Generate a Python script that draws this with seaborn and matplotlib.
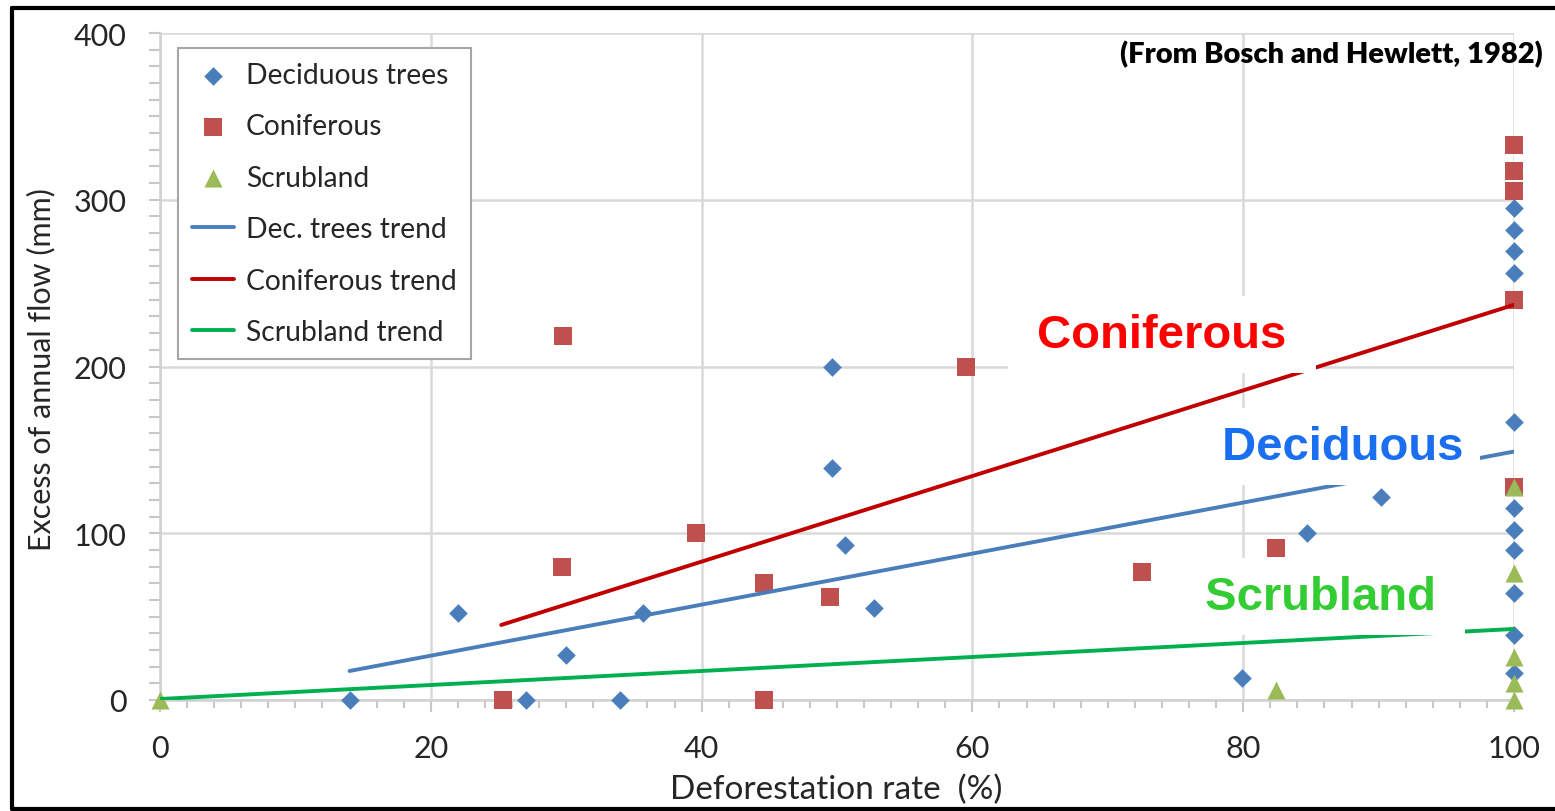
import seaborn as sns
import matplotlib.pyplot as plt
from matplotlib.lines import Line2D
from matplotlib.ticker import MultipleLocator

# --- data (Bosch and Hewlett, 1982) ---
dec_x = [14, 22, 27, 30, 34, 35.7, 49.6, 49.6, 50.6, 52.7, 79.9, 84.7, 90.2,
         100, 100, 100, 100, 100, 100, 100, 100, 100, 100, 100]
dec_y = [0, 52, 0, 27, 0, 52, 200, 139, 93, 55, 13, 100, 122,
         295, 282, 269, 256, 167, 115, 102, 90, 64, 39, 16]

con_x = [25.3, 29.7, 29.8, 39.6, 44.6, 44.6, 49.5, 59.5, 72.5, 82.4,
         100, 100, 100, 100, 100]
con_y = [0, 80, 218, 100, 70, 0, 62, 200, 77, 91,
         333, 317, 305, 240, 128]

scr_x = [0, 82.4, 100, 100, 100, 100, 100]
scr_y = [0, 6, 128, 76, 26, 10, 0]

# trend lines (end points)
dec_trend_x = [14, 100]
dec_trend_y = [17.4, 149]
con_trend_x = [25.2, 100]
con_trend_y = [45, 237]
scr_trend_x = [0, 100]
scr_trend_y = [0.6, 42.6]

sns.set_style("white")
plt.rcParams['font.family'] = ['Lato', 'DejaVu Sans']

fig = plt.figure(figsize=(15.55, 8.12), dpi=100)
ax = fig.add_axes([160 / 1555, 1 - 701 / 812, 1354 / 1555, 667 / 812])

# points
sns.scatterplot(x=dec_x, y=dec_y, marker='D', s=90, color='#4a7ebb', linewidth=0,
                label='Deciduous trees', clip_on=False, zorder=3, ax=ax)
sns.scatterplot(x=con_x, y=con_y, marker='s', s=150, color='#c0504d', linewidth=0,
                label='Coniferous', clip_on=False, zorder=3, ax=ax)
sns.scatterplot(x=scr_x, y=scr_y, marker='^', s=170, color='#9bbb59', linewidth=0,
                label='Scrubland', clip_on=False, zorder=3, ax=ax)

# trends
sns.lineplot(x=dec_trend_x, y=dec_trend_y, color='#4a7ebb', lw=2.8,
             label='Dec. trees trend', zorder=4, ax=ax)
sns.lineplot(x=con_trend_x, y=con_trend_y, color='#c00000', lw=2.8,
             label='Coniferous trend', zorder=4, ax=ax)
sns.lineplot(x=scr_trend_x, y=scr_trend_y, color='#00b050', lw=2.8,
             label='Scrubland trend', zorder=4, ax=ax)

ax.set_xlim(0, 100)
ax.set_ylim(0, 400)
ax.xaxis.set_major_locator(MultipleLocator(20))
ax.xaxis.set_minor_locator(MultipleLocator(2))
ax.yaxis.set_major_locator(MultipleLocator(100))
ax.yaxis.set_minor_locator(MultipleLocator(10))
ax.grid(True, which='major', color='#d9d9d9', lw=1.8)
ax.set_axisbelow(True)
for side in ['top', 'right']:
    ax.spines[side].set_visible(False)
for side in ['left', 'bottom']:
    ax.spines[side].set_color('#d0d0d0')
    ax.spines[side].set_linewidth(1.8)

ax.tick_params(which='both', direction='out', color='#c8c8c8', width=1.5,
               bottom=True, left=True, labelsize=22, labelcolor='#262626')
ax.tick_params(axis='x', which='major', length=8.6, pad=16)
ax.tick_params(axis='x', which='minor', length=6)
ax.tick_params(axis='y', which='both', length=8, pad=16)
ax.set_xlabel('')
ax.set_ylabel('')

fig.text(836 / 1555, 1 - 790 / 812, 'Deforestation rate  (%)', ha='center', va='center',
         fontsize=24, color='#262626')
fig.text(41 / 1555, 1 - 370 / 812, 'Excess of annual flow (mm)', ha='center', va='center',
         rotation=90, fontsize=22, color='#262626')
fig.text(1543 / 1555, 1 - 55 / 812, '(From Bosch and Hewlett, 1982)', ha='right', va='center',
         fontsize=21, fontweight='heavy', color='black')

leg = ax.legend(loc='upper left', bbox_to_anchor=(0.0133, 0.9775), borderaxespad=0,
                frameon=True, fancybox=False, edgecolor='#a6a6a6', framealpha=1,
                fontsize=20.3, handlelength=1.5, handletextpad=0.4, labelspacing=0.9,
                borderpad=0.5)
leg.get_frame().set_linewidth(1.5)
for t in leg.get_texts():
    t.set_color('#262626')

# labels on white boxes
box = dict(boxstyle='square,pad=0.35', fc='white', ec='none')
ax.text(74.0, 219, ' Coniferous ', color='#ff0000', fontsize=34, fontweight='bold',
        family='Liberation Sans', ha='center', va='center', bbox=box, zorder=6)
ax.text(86.9, 152, ' Deciduous', color='#1a6ef0', fontsize=34, fontweight='bold',
        family='Liberation Sans', ha='center', va='center', bbox=box, zorder=6)
ax.text(85.7, 62, ' Scrubland ', color='#33cc33', fontsize=34, fontweight='bold',
        family='Liberation Sans', ha='center', va='center', bbox=box, zorder=6)

# outer frame
fig.add_artist(Line2D([0.008, 0.008], [0.0025, 0.9895], color='black', lw=3))
fig.add_artist(Line2D([0.008, 1.0], [0.9895, 0.9895], color='black', lw=3))
fig.add_artist(Line2D([0.008, 1.0], [0.0025, 0.0025], color='black', lw=3))

fig.savefig('out.png', dpi=100)
